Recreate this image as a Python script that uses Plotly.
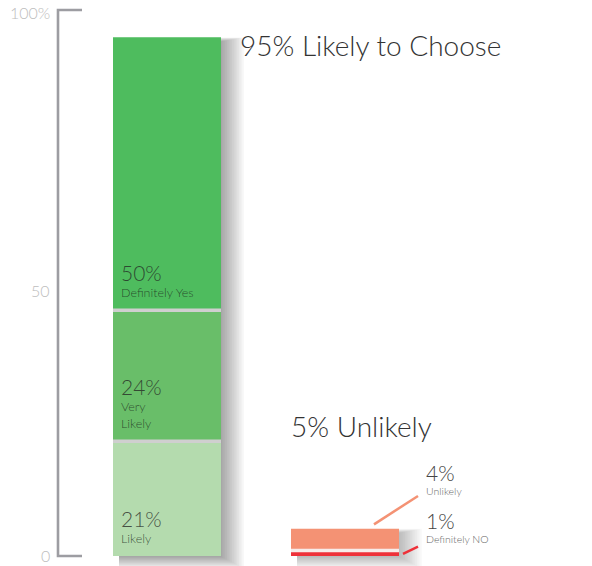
import plotly.graph_objects as go

# ---- data ----
yes_labels = ["Likely", "Very<br>Likely", "Definitely Yes"]
yes_values = [21, 24, 50]
no_labels = ["Definitely NO", "Unlikely"]
no_values = [1, 4]
group_titles = ["95% Likely to Choose", "5% Unlikely"]
tick_vals = [0, 50, 100]
tick_text = ["0", "50", "100%"]

# ---- styling ----
yes_colors = ["#b4dbae", "#69be69", "#4ebc5e"]
no_colors = ["#ee3139", "#f49274"]
tick_shift = [1, -7, -2]
FONT = "Lato Light, Lato"
W, H = 592, 566
ML, MR, MT, MB = 58, 0, 10, 10
PX_PER_X = 178.0
BAR_W = 108 / PX_PER_X
X0 = -109 / PX_PER_X
X1 = X0 + (W - ML - MR) / PX_PER_X
Y0, Y1 = 0, 100
PLOT_W = W - ML - MR
PLOT_H = H - MT - MB

def px_x(v):  # data -> paper
    return (v - X0) / (X1 - X0)

def px_y(v):
    return (v - Y0) / (Y1 - Y0)

fig = go.Figure()
shapes = []
annotations = []

def add_group(xpos, values, labels, colors, gapcol, alpha):
    base = 0
    for v, lab, c in zip(values, labels, colors):
        fig.add_trace(go.Bar(x=[xpos], y=[v], base=[base], width=BAR_W,
                             marker=dict(color=c, line=dict(width=0)),
                             name=lab.replace("<br>", " "), hoverinfo="skip"))
        base += v
    total = base
    l = px_x(xpos - BAR_W / 2)
    r = px_x(xpos + BAR_W / 2)
    b = px_y(0)
    t = px_y(total)
    for k in range(14):
        shapes.append(dict(type="rect", xref="paper", yref="paper", layer="below",
                           x0=l + 6 / PLOT_W, x1=r + (1 + k * 1.7) / PLOT_W,
                           y0=b - (1 + k * 0.9) / PLOT_H, y1=t - (4 - k * 0.3) / PLOT_H,
                           fillcolor=f"rgba(0,0,0,{alpha})", line=dict(width=0)))
    cum = 0
    for v in values[:-1]:
        cum += v
        shapes.append(dict(type="line", xref="x", yref="y",
                           x0=xpos - BAR_W / 2, x1=xpos + BAR_W / 2, y0=cum, y1=cum,
                           line=dict(color=gapcol, width=3.5)))
    return total

total_yes = add_group(0, yes_values, yes_labels, yes_colors, "#cfcfcf", 0.026)
total_no = add_group(1, no_values, no_labels, no_colors, "#f7ece9", 0.018)

# labels inside green segments
base = 0
for v, lab in zip(yes_values, yes_labels):
    annotations.append(dict(
        x=0 - BAR_W / 2, y=base, xref="x", yref="y", xanchor="left", yanchor="bottom",
        xshift=6, yshift=8, showarrow=False, align="left",
        text=f"<span style='font-size:21px;color:rgba(35,35,35,0.92)'>{v}%</span><br>{lab}",
        font=dict(family=FONT, size=12.5, color="rgba(30,50,30,0.82)")))
    base += v

# labels beside red segments with leader lines
lab_x = 1 + BAR_W / 2 + 25 / PX_PER_X
label_y = [1.6, 10.4]
line_start = [(1 + BAR_W / 2 + 4 / PX_PER_X, 0.4), (1 + BAR_W / 2 - 25 / PX_PER_X, total_no + 0.8)]
line_end_y = [1.7, 11.0]
for i, (v, lab) in enumerate(zip(no_values, no_labels)):
    annotations.append(dict(
        x=lab_x, y=label_y[i], xref="x", yref="y", xanchor="left", yanchor="bottom",
        showarrow=False, align="left",
        text=f"<span style='font-size:21px;color:#444'>{v}%</span><br>{lab}",
        font=dict(family=FONT, size=10.5, color="#666")))
    sx, sy = line_start[i]
    shapes.append(dict(type="line", xref="x", yref="y",
                       x0=sx, y0=sy, x1=lab_x - 6 / PX_PER_X, y1=line_end_y[i],
                       line=dict(color=no_colors[i], width=2.5)))

# group titles
annotations.append(dict(x=0 + BAR_W / 2 + 17 / PX_PER_X, y=93.6, xref="x", yref="y",
                        xanchor="left", yanchor="middle", showarrow=False,
                        text=group_titles[0], font=dict(family=FONT, size=28, color="#333")))
annotations.append(dict(x=1 - BAR_W / 2 - 2 / PX_PER_X, y=23.8, xref="x", yref="y",
                        xanchor="left", yanchor="middle", showarrow=False,
                        text=group_titles[1], font=dict(family=FONT, size=28, color="#333")))

# y tick labels (placed on the y scale)
for tv, tt, ts in zip(tick_vals, tick_text, tick_shift):
    annotations.append(dict(x=0, y=tv, xref="paper", yref="y", xanchor="right",
                            yanchor="middle", xshift=-6, yshift=ts, showarrow=False,
                            text=tt, font=dict(family=FONT, size=16, color="#bdbdbd")))

# bracket axis
tick_len = 24 / PLOT_W
shapes.append(dict(type="path", xref="paper", yref="paper",
                   path=f"M {tick_len},{px_y(Y1)} L 0,{px_y(Y1)} L 0,{px_y(Y0)} L {tick_len},{px_y(Y0)}",
                   line=dict(color="#9d9da2", width=2.6)))

fig.update_layout(
    width=W, height=H, margin=dict(l=ML, r=MR, t=MT, b=MB),
    barmode="overlay", showlegend=False,
    paper_bgcolor="white", plot_bgcolor="rgba(0,0,0,0)",
    xaxis=dict(range=[X0, X1], visible=False, fixedrange=True),
    yaxis=dict(range=[Y0, Y1], tickvals=tick_vals, showticklabels=False,
               showgrid=False, zeroline=False, showline=False, ticks="", fixedrange=True),
    shapes=shapes, annotations=annotations,
)

fig.write_html("out.html", config={"displayModeBar": False},
               post_script="document.body.style.margin='0';")
